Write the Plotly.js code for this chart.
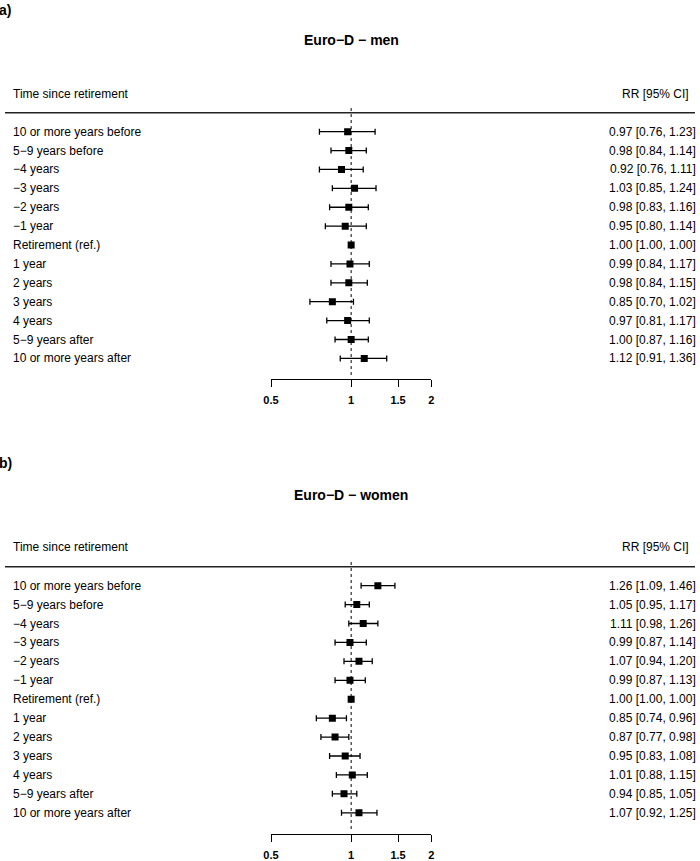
<!DOCTYPE html>
<html>
<head>
<meta charset="utf-8">
<script src="https://cdn.plot.ly/plotly-3.0.1.min.js"></script>
<style>html,body{margin:0;padding:0;background:#fff;}#chart{width:700px;height:861px;}</style>
</head>
<body>
<div id="chart"></div>
<script>
const categories = [
  "10 or more years before", "5\u22129 years before", "\u22124 years", "\u22123 years",
  "\u22122 years", "\u22121 year", "Retirement (ref.)", "1 year", "2 years", "3 years",
  "4 years", "5\u22129 years after", "10 or more years after"
];
const menRR = [0.97, 0.98, 0.92, 1.03, 0.98, 0.95, 1.00, 0.99, 0.98, 0.85, 0.97, 1.00, 1.12];
const menLo = [0.76, 0.84, 0.76, 0.85, 0.83, 0.80, 1.00, 0.84, 0.84, 0.70, 0.81, 0.87, 0.91];
const menHi = [1.23, 1.14, 1.11, 1.24, 1.16, 1.14, 1.00, 1.17, 1.15, 1.02, 1.17, 1.16, 1.36];
const womenRR = [1.26, 1.05, 1.11, 0.99, 1.07, 0.99, 1.00, 0.85, 0.87, 0.95, 1.01, 0.94, 1.07];
const womenLo = [1.09, 0.95, 0.98, 0.87, 0.94, 0.87, 1.00, 0.74, 0.77, 0.83, 0.88, 0.85, 0.92];
const womenHi = [1.46, 1.17, 1.26, 1.14, 1.20, 1.13, 1.00, 0.96, 0.98, 1.08, 1.15, 1.05, 1.25];
const tickVals = [0.5, 1, 1.5, 2];
const tickText = ["0.5", "1", "1.5", "2"];
const panelTitles = ["Euro\u2212D \u2212 men", "Euro\u2212D \u2212 women"];
const panelTags = ["a)", "b)"];
const colHeaderLeft = "Time since retirement";
const colHeaderRight = "RR [95% CI]";

const FONT = "Liberation Sans, Arial, sans-serif";
const fmt = v => v.toFixed(2);
const rowIdx = categories.map((_, i) => i);

function panelTraces(rr, lo, hi, xa, ya) {
  return [
    {
      type: "scatter", mode: "lines", x: [1, 1], y: [-1.25, 12.95],
      xaxis: xa, yaxis: ya, hoverinfo: "skip", showlegend: false,
      line: {color: "#000", width: 1, dash: "dot"}
    },
    {
      type: "scatter", mode: "markers", x: rr, y: rowIdx,
      xaxis: xa, yaxis: ya, showlegend: false,
      marker: {symbol: "square", size: 7, color: "#000"},
      error_x: {
        type: "data", symmetric: false,
        array: hi.map((h, i) => h - rr[i]),
        arrayminus: lo.map((l, i) => rr[i] - l),
        color: "#000", thickness: 1.3, width: 3
      }
    }
  ];
}

const data = [
  ...panelTraces(menRR, menLo, menHi, "x", "y"),
  ...panelTraces(womenRR, womenLo, womenHi, "x2", "y2")
];

const annotations = [];
const shapes = [];
function panelText(rr, lo, hi, yref, p) {
  categories.forEach((c, i) => {
    annotations.push({xref: "paper", yref: yref, x: 10.5 / 700, y: i, xanchor: "left", yanchor: "middle",
      text: c, showarrow: false, font: {family: FONT, size: 12, color: "#000"}});
    annotations.push({xref: "paper", yref: yref, x: 698 / 700, y: i, xanchor: "right", yanchor: "middle",
      text: fmt(rr[i]) + " [" + fmt(lo[i]) + ", " + fmt(hi[i]) + "]", showarrow: false,
      font: {family: FONT, size: 12, color: "#000"}});
  });
  annotations.push({xref: "paper", yref: yref, x: 10.5 / 700, y: -2.02, xanchor: "left", yanchor: "middle",
    text: colHeaderLeft, showarrow: false, font: {family: FONT, size: 12, color: "#000"}});
  annotations.push({xref: "paper", yref: yref, x: 691 / 700, y: -2.02, xanchor: "right", yanchor: "middle",
    text: colHeaderRight, showarrow: false, font: {family: FONT, size: 12, color: "#000"}});
  annotations.push({xref: "paper", yref: yref, x: 351 / 700, y: p.titleY, xanchor: "center", yanchor: "middle",
    text: "<b>" + panelTitles[p.k] + "</b>", showarrow: false, font: {family: FONT, size: 14, color: "#000"}});
  annotations.push({xref: "paper", yref: "paper", x: -0.004, y: p.tagY, xanchor: "left", yanchor: "middle",
    text: "<b>" + panelTags[p.k] + "</b>", showarrow: false, font: {family: FONT, size: 14, color: "#000"}});
  shapes.push({type: "line", xref: "paper", yref: yref, x0: 5 / 700, x1: 695 / 700, y0: -1.0, y1: -1.0,
    line: {color: "#222", width: 1.5}});
}
panelText(menRR, menLo, menHi, "y", {k: 0, titleY: -4.85, tagY: 1 - 10 / 861});
panelText(womenRR, womenLo, womenHi, "y2", {k: 1, titleY: -4.79, tagY: 1 - 463 / 861});

const xr = [Math.log10(0.5), Math.log10(2)];
const xdom = [271 / 700, 431.3 / 700];
function xaxisDef(anchor) {
  return {
    type: "log", range: xr, domain: xdom, anchor: anchor,
    showgrid: false, zeroline: false, showline: true, linecolor: "#000", linewidth: 1,
    ticks: "outside", ticklen: 7, tickwidth: 1, tickcolor: "#000",
    tickvals: tickVals, ticktext: tickText, ticklabelstandoff: 4,
    tickfont: {family: FONT, size: 11, color: "#000", weight: "bold"}
  };
}
function yaxisDef(dom, rng) {
  return {domain: dom, range: rng, visible: false, showgrid: false, zeroline: false, fixedrange: true};
}

const layout = {
  width: 700, height: 861,
  margin: {l: 0, r: 0, t: 0, b: 0},
  paper_bgcolor: "#fff", plot_bgcolor: "#fff",
  showlegend: false,
  xaxis: xaxisDef("y"),
  xaxis2: xaxisDef("y2"),
  yaxis: yaxisDef([1 - 379 / 861, 1 - 20 / 861], [13.09, -5.91]),
  yaxis2: yaxisDef([1 - 834 / 861, 1 - 470 / 861], [13.12, -6.11]),
  annotations: annotations,
  shapes: shapes
};

Plotly.newPlot("chart", data, layout, {displayModeBar: false, staticPlot: true});
</script>
</body>
</html>
